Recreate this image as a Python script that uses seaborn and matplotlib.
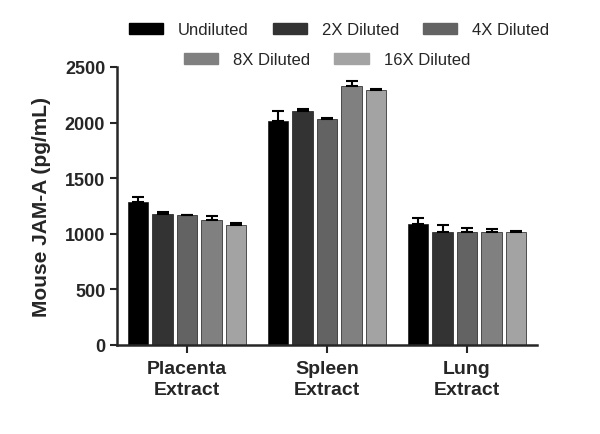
import matplotlib
matplotlib.use("Agg")
import matplotlib.pyplot as plt
from matplotlib.patches import Patch
import numpy as np
import pandas as pd
import seaborn as sns

SAMPLES = ["Placenta\nExtract", "Spleen\nExtract", "Lung\nExtract"]
DILUTIONS = ["Undiluted", "2X Diluted", "4X Diluted", "8X Diluted", "16X Diluted"]
COLORS = ["#000000", "#333333", "#636363", "#808080", "#a3a3a3"]

# mean concentration (pg/mL) per sample, one entry per dilution
placenta_mean = [1290, 1175, 1165, 1125, 1080]
spleen_mean = [2015, 2100, 2035, 2325, 2295]
lung_mean = [1090, 1015, 1020, 1020, 1020]

# upper error (SD)
placenta_err = [40, 20, 8, 35, 20]
spleen_err = [85, 20, 8, 50, 10]
lung_err = [55, 60, 35, 20, 5]


def main():
    sns.set_theme(style="ticks")
    plt.rcParams["font.family"] = ["Liberation Sans", "DejaVu Sans"]

    rows = []
    for s, means, errs in zip(SAMPLES, [placenta_mean, spleen_mean, lung_mean],
                              [placenta_err, spleen_err, lung_err]):
        for d, m, e in zip(DILUTIONS, means, errs):
            rows.append({"sample": s, "dilution": d, "conc": m, "err": e})
    df = pd.DataFrame(rows)

    fig = plt.figure(figsize=(6, 4.35), dpi=100)
    ax = fig.add_axes([0.195, 0.2046, 0.70, 0.6391])

    sns.barplot(data=df, x="sample", y="conc", hue="dilution", order=SAMPLES,
                hue_order=DILUTIONS, palette=COLORS, width=0.875, gap=0.18,
                errorbar=None, legend=False, edgecolor="#1a1a1a", linewidth=0.5,
                saturation=1, ax=ax)

    # upper error bars at the bar positions seaborn produced
    for cont, d in zip(ax.containers, DILUTIONS):
        sub = df[df["dilution"] == d].set_index("sample").loc[SAMPLES]
        xs = [p.get_x() + p.get_width() / 2 for p in cont.patches]
        ax.errorbar(xs, sub["conc"], yerr=[np.zeros(len(xs)), sub["err"]],
                    fmt="none", ecolor="black", elinewidth=1.5, capsize=4,
                    capthick=1.5, zorder=1)

    ax.set_xlim(-0.5, 2.5)
    ax.set_ylim(0, 2500)
    ax.set_yticks([0, 500, 1000, 1500, 2000, 2500])
    ax.set_xlabel("")
    ax.set_ylabel("Mouse JAM-A (pg/mL)", fontsize=15, fontweight="bold", labelpad=10)
    ax.tick_params(axis="both", width=1.5, length=5, labelsize=13)
    ax.tick_params(axis="x", length=6, pad=5, labelsize=14)
    for lab in ax.get_xticklabels() + ax.get_yticklabels():
        lab.set_fontweight("bold")
    for lab in ax.get_xticklabels():
        lab.set_linespacing(1.3)
    for sp in ["left", "bottom"]:
        ax.spines[sp].set_linewidth(1.8)
    sns.despine(ax=ax)

    handles = [Patch(facecolor=c, edgecolor=c, label=d) for c, d in zip(COLORS, DILUTIONS)]
    kw = dict(frameon=False, fontsize=12, handlelength=2.05, handleheight=0.6,
              handletextpad=0.9, columnspacing=1.45, loc="center")
    fig.legend(handles=handles[:3], ncol=3, bbox_to_anchor=(0.565, 0.929), **kw)
    fig.legend(handles=handles[3:], ncol=2, bbox_to_anchor=(0.545, 0.86), **kw)

    fig.savefig("out.png", dpi=100)
    plt.close(fig)


if __name__ == "__main__":
    main()
